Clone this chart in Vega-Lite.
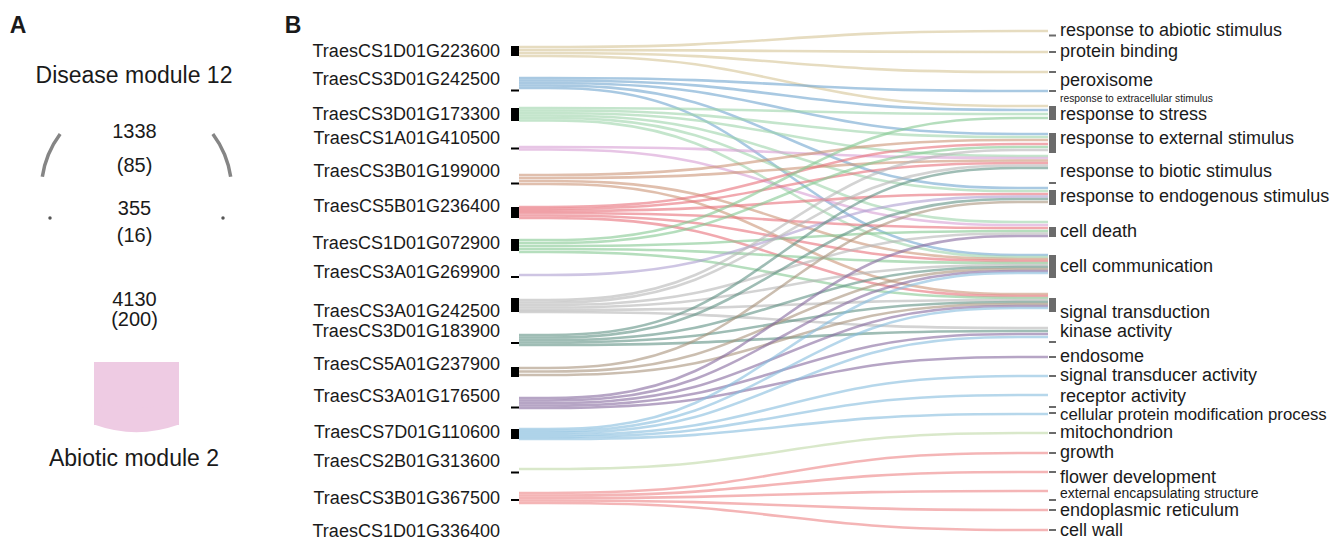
{
  "$schema": "https://vega.github.io/schema/vega-lite/v6.json",
  "width": 1343,
  "height": 540,
  "padding": 0,
  "autosize": {"type": "none"},
  "background": "white",
  "config": {"view": {"stroke": null}, "font": "Liberation Sans", "text": {"font": "Liberation Sans", "color": "#1a1a1a"}},
  "datasets": {
    "stops": [
      {"key": "a", "x": 519},
      {"key": "b", "x": 695},
      {"key": "c", "x": 872},
      {"key": "d", "x": 1048}
    ],
    "genes": [
      {"gene": "TraesCS1D01G223600", "y": 52, "n0": 46, "n1": 56},
      {"gene": "TraesCS3D01G242500", "y": 80, "n0": 89.5, "n1": 91.5},
      {"gene": "TraesCS3D01G173300", "y": 115, "n0": 108, "n1": 121},
      {"gene": "TraesCS1A01G410500", "y": 139, "n0": 147.5, "n1": 149.5},
      {"gene": "TraesCS3B01G199000", "y": 172, "n0": 182.5, "n1": 184.5},
      {"gene": "TraesCS5B01G236400", "y": 207, "n0": 207, "n1": 218},
      {"gene": "TraesCS1D01G072900", "y": 244, "n0": 239, "n1": 251},
      {"gene": "TraesCS3A01G269900", "y": 273, "n0": 276, "n1": 278},
      {"gene": "TraesCS3A01G242500", "y": 312, "n0": 298, "n1": 312},
      {"gene": "TraesCS3D01G183900", "y": 332, "n0": 342, "n1": 344},
      {"gene": "TraesCS5A01G237900", "y": 365, "n0": 367, "n1": 377},
      {"gene": "TraesCS3A01G176500", "y": 397, "n0": 406.5, "n1": 408.5},
      {"gene": "TraesCS7D01G110600", "y": 433, "n0": 429, "n1": 439},
      {"gene": "TraesCS2B01G313600", "y": 462, "n0": 471.5, "n1": 473.5},
      {"gene": "TraesCS3B01G367500", "y": 499, "n0": 499, "n1": 501},
      {"gene": "TraesCS1D01G336400", "y": 531.5}
    ],
    "terms": [
      {"term": "response to abiotic stimulus", "y": 31, "n0": 34.5, "n1": 36.5},
      {"term": "protein binding", "y": 52, "n0": 51, "n1": 53},
      {"term": "peroxisome", "y": 81, "n0": 71, "n1": 73},
      {"term": "response to extracellular stimulus", "y": 98.5, "n0": 90, "n1": 92},
      {"term": "response to stress", "y": 115, "n0": 106, "n1": 120},
      {"term": "response to external stimulus", "y": 139, "n0": 133, "n1": 153},
      {"term": "response to biotic stimulus", "y": 172, "n0": 182, "n1": 184},
      {"term": "response to endogenous stimulus", "y": 197, "n0": 190, "n1": 205},
      {"term": "cell death", "y": 232, "n0": 227, "n1": 237},
      {"term": "cell communication", "y": 267, "n0": 255, "n1": 278},
      {"term": "signal transduction", "y": 313, "n0": 298, "n1": 312},
      {"term": "kinase activity", "y": 332, "n0": 341, "n1": 343},
      {"term": "endosome", "y": 357, "n0": 356, "n1": 358},
      {"term": "signal transducer activity", "y": 376, "n0": 375, "n1": 377},
      {"term": "receptor activity", "y": 397, "n0": 406, "n1": 408},
      {"term": "cellular protein modification process", "y": 415, "n0": 412, "n1": 414},
      {"term": "mitochondrion", "y": 433, "n0": 432, "n1": 434},
      {"term": "growth", "y": 453, "n0": 452, "n1": 454},
      {"term": "flower development", "y": 477.5, "n0": 471, "n1": 473},
      {"term": "external encapsulating structure", "y": 494, "n0": 499, "n1": 501},
      {"term": "endoplasmic reticulum", "y": 511, "n0": 509, "n1": 511},
      {"term": "cell wall", "y": 531, "n0": 529, "n1": 531}
    ],
    "links": [
      {"g": "TraesCS1D01G223600", "t": "response to abiotic stimulus", "a": 47, "b": 47, "c": 31, "d": 31},
      {"g": "TraesCS1D01G223600", "t": "protein binding", "a": 50, "b": 50, "c": 52, "d": 52},
      {"g": "TraesCS1D01G223600", "t": "peroxisome", "a": 53, "b": 53, "c": 72, "d": 72},
      {"g": "TraesCS1D01G223600", "t": "response to stress", "a": 56, "b": 56, "c": 106, "d": 106},
      {"g": "TraesCS3D01G242500", "t": "response to extracellular stimulus", "a": 78, "b": 78, "c": 91, "d": 91},
      {"g": "TraesCS3D01G242500", "t": "response to stress", "a": 80.5, "b": 80.5, "c": 110, "d": 110},
      {"g": "TraesCS3D01G242500", "t": "response to external stimulus", "a": 83, "b": 83, "c": 134, "d": 134},
      {"g": "TraesCS3D01G242500", "t": "response to endogenous stimulus", "a": 85.5, "b": 85.5, "c": 188, "d": 188},
      {"g": "TraesCS3D01G242500", "t": "cell communication", "a": 88, "b": 88, "c": 255, "d": 255},
      {"g": "TraesCS3D01G173300", "t": "response to stress", "a": 108, "b": 108, "c": 114, "d": 114},
      {"g": "TraesCS3D01G173300", "t": "response to external stimulus", "a": 110.5, "b": 110.5, "c": 137, "d": 137},
      {"g": "TraesCS3D01G173300", "t": "response to biotic stimulus", "a": 113, "b": 113, "c": 156, "d": 156},
      {"g": "TraesCS3D01G173300", "t": "response to endogenous stimulus", "a": 115.5, "b": 115.5, "c": 191, "d": 191},
      {"g": "TraesCS3D01G173300", "t": "cell death", "a": 118, "b": 118, "c": 222, "d": 222},
      {"g": "TraesCS3D01G173300", "t": "cell communication", "a": 120.5, "b": 120.5, "c": 257, "d": 257},
      {"g": "TraesCS1A01G410500", "t": "response to biotic stimulus", "a": 147, "b": 147, "c": 158, "d": 158},
      {"g": "TraesCS1A01G410500", "t": "cell death", "a": 149.5, "b": 149.5, "c": 225, "d": 225},
      {"g": "TraesCS3B01G199000", "t": "response to external stimulus", "a": 175, "b": 175, "c": 140, "d": 140},
      {"g": "TraesCS3B01G199000", "t": "response to biotic stimulus", "a": 178, "b": 178, "c": 160.5, "d": 160.5},
      {"g": "TraesCS3B01G199000", "t": "cell communication", "a": 181, "b": 181, "c": 259, "d": 259},
      {"g": "TraesCS3B01G199000", "t": "signal transduction", "a": 184, "b": 184, "c": 294, "d": 294},
      {"g": "TraesCS5B01G236400", "t": "response to external stimulus", "a": 207, "b": 207, "c": 144, "d": 144},
      {"g": "TraesCS5B01G236400", "t": "response to biotic stimulus", "a": 209, "b": 209, "c": 163, "d": 163},
      {"g": "TraesCS5B01G236400", "t": "response to endogenous stimulus", "a": 211, "b": 211, "c": 194, "d": 194},
      {"g": "TraesCS5B01G236400", "t": "cell death", "a": 213, "b": 213, "c": 228, "d": 228},
      {"g": "TraesCS5B01G236400", "t": "cell communication", "a": 215.5, "b": 215.5, "c": 261, "d": 261},
      {"g": "TraesCS5B01G236400", "t": "signal transduction", "a": 218, "b": 218, "c": 296, "d": 296},
      {"g": "TraesCS1D01G072900", "t": "response to stress", "a": 240, "b": 240, "c": 118, "d": 118},
      {"g": "TraesCS1D01G072900", "t": "response to external stimulus", "a": 243, "b": 243, "c": 147, "d": 147},
      {"g": "TraesCS1D01G072900", "t": "cell death", "a": 246, "b": 246, "c": 231, "d": 231},
      {"g": "TraesCS1D01G072900", "t": "cell communication", "a": 249, "b": 249, "c": 263, "d": 263},
      {"g": "TraesCS1D01G072900", "t": "signal transduction", "a": 252, "b": 252, "c": 298, "d": 298},
      {"g": "TraesCS3A01G269900", "t": "response to endogenous stimulus", "a": 275, "b": 275, "c": 196.5, "d": 196.5},
      {"g": "TraesCS3A01G242500", "t": "response to external stimulus", "a": 300, "b": 300, "c": 150, "d": 150},
      {"g": "TraesCS3A01G242500", "t": "response to biotic stimulus", "a": 302.5, "b": 302.5, "c": 165.5, "d": 165.5},
      {"g": "TraesCS3A01G242500", "t": "cell death", "a": 305, "b": 305, "c": 233.5, "d": 233.5},
      {"g": "TraesCS3A01G242500", "t": "cell communication", "a": 307.5, "b": 307.5, "c": 265, "d": 265},
      {"g": "TraesCS3A01G242500", "t": "signal transduction", "a": 310, "b": 310, "c": 300, "d": 300},
      {"g": "TraesCS3A01G242500", "t": "kinase activity", "a": 312, "b": 312, "c": 328, "d": 328},
      {"g": "TraesCS3D01G183900", "t": "response to biotic stimulus", "a": 335, "b": 335, "c": 168, "d": 168},
      {"g": "TraesCS3D01G183900", "t": "response to endogenous stimulus", "a": 337.5, "b": 337.5, "c": 199, "d": 199},
      {"g": "TraesCS3D01G183900", "t": "cell communication", "a": 340, "b": 340, "c": 267, "d": 267},
      {"g": "TraesCS3D01G183900", "t": "signal transduction", "a": 342.5, "b": 342.5, "c": 302, "d": 302},
      {"g": "TraesCS3D01G183900", "t": "kinase activity", "a": 345, "b": 345, "c": 331, "d": 331},
      {"g": "TraesCS5A01G237900", "t": "response to endogenous stimulus", "a": 368, "b": 368, "c": 202, "d": 202},
      {"g": "TraesCS5A01G237900", "t": "cell communication", "a": 371.5, "b": 371.5, "c": 269, "d": 269},
      {"g": "TraesCS5A01G237900", "t": "signal transduction", "a": 375, "b": 375, "c": 304, "d": 304},
      {"g": "TraesCS3A01G176500", "t": "cell death", "a": 398, "b": 398, "c": 236, "d": 236},
      {"g": "TraesCS3A01G176500", "t": "cell communication", "a": 400.5, "b": 400.5, "c": 271, "d": 271},
      {"g": "TraesCS3A01G176500", "t": "signal transduction", "a": 403, "b": 403, "c": 306, "d": 306},
      {"g": "TraesCS3A01G176500", "t": "kinase activity", "a": 405.5, "b": 405.5, "c": 334, "d": 334},
      {"g": "TraesCS3A01G176500", "t": "endosome", "a": 408, "b": 408, "c": 357, "d": 357},
      {"g": "TraesCS7D01G110600", "t": "cell communication", "a": 429, "b": 429, "c": 273, "d": 273},
      {"g": "TraesCS7D01G110600", "t": "signal transduction", "a": 431, "b": 431, "c": 308, "d": 308},
      {"g": "TraesCS7D01G110600", "t": "kinase activity", "a": 433, "b": 433, "c": 337, "d": 337},
      {"g": "TraesCS7D01G110600", "t": "signal transducer activity", "a": 435, "b": 435, "c": 376, "d": 376},
      {"g": "TraesCS7D01G110600", "t": "receptor activity", "a": 437, "b": 437, "c": 395, "d": 395},
      {"g": "TraesCS7D01G110600", "t": "cellular protein modification process", "a": 439, "b": 439, "c": 414, "d": 414},
      {"g": "TraesCS2B01G313600", "t": "mitochondrion", "a": 469, "b": 469, "c": 433, "d": 433},
      {"g": "TraesCS3B01G367500", "t": "growth", "a": 493, "b": 493, "c": 453, "d": 453},
      {"g": "TraesCS3B01G367500", "t": "flower development", "a": 495.5, "b": 495.5, "c": 472, "d": 472},
      {"g": "TraesCS3B01G367500", "t": "external encapsulating structure", "a": 498, "b": 498, "c": 491, "d": 491},
      {"g": "TraesCS3B01G367500", "t": "endoplasmic reticulum", "a": 500.5, "b": 500.5, "c": 510, "d": 510},
      {"g": "TraesCS3B01G367500", "t": "cell wall", "a": 503, "b": 503, "c": 530, "d": 530}
    ],
    "notes": [
      {"text": "Disease module 12", "kind": "module", "x": 134, "y": 76},
      {"text": "Abiotic module 2", "kind": "module", "x": 134, "y": 459},
      {"text": "1338", "kind": "count", "x": 134.5, "y": 132},
      {"text": "(85)", "kind": "count", "x": 134.5, "y": 166},
      {"text": "355", "kind": "count", "x": 134.5, "y": 209},
      {"text": "(16)", "kind": "count", "x": 134.5, "y": 236},
      {"text": "4130", "kind": "count", "x": 134.5, "y": 300},
      {"text": "(200)", "kind": "count", "x": 134.5, "y": 320},
      {"text": "A", "kind": "panel", "x": 18, "y": 26},
      {"text": "B", "kind": "panel", "x": 293, "y": 26}
    ]
  },
  "layer": [
    {
      "data": {"values": [{"x0": 94, "x1": 179, "y0": 362, "y1": 425}]},
      "mark": {"type": "rect", "color": "#eecbe3"},
      "encoding": {
        "x": {"field": "x0", "type": "quantitative", "scale": {"domain": [0, 1343], "nice": false, "zero": false}, "axis": null},
        "x2": {"field": "x1"},
        "y": {"field": "y0", "type": "quantitative", "scale": {"domain": [0, 540], "reverse": true, "nice": false, "zero": false}, "axis": null},
        "y2": {"field": "y1"}
      }
    },
    {
      "data": {"values": [{"cx": 136.5, "cy": 308, "t0": 2.799, "t1": 3.485}]},
      "mark": {"type": "arc", "radius": 124, "radius2": 100, "color": "#eecbe3"},
      "encoding": {
        "x": {"field": "cx", "type": "quantitative"},
        "y": {"field": "cy", "type": "quantitative"},
        "theta": {"field": "t0", "type": "quantitative", "scale": null, "stack": null},
        "theta2": {"field": "t1"}
      }
    },
    {
      "data": {"values": [{"cx": 136.5, "cy": 191, "t0": -1.42, "t1": -0.93}, {"cx": 136.5, "cy": 191, "t0": 0.93, "t1": 1.42}]},
      "mark": {"type": "arc", "radius": 97, "radius2": 93.5, "color": "#858585"},
      "encoding": {
        "x": {"field": "cx", "type": "quantitative"},
        "y": {"field": "cy", "type": "quantitative"},
        "theta": {"field": "t0", "type": "quantitative", "scale": null, "stack": null},
        "theta2": {"field": "t1"}
      }
    },
    {
      "data": {"values": [{"x": 50, "y": 218}, {"x": 223, "y": 218}]},
      "mark": {"type": "circle", "size": 12, "color": "#555555", "opacity": 1},
      "encoding": {
        "x": {"field": "x", "type": "quantitative"},
        "y": {"field": "y", "type": "quantitative"}
      }
    },
    {
      "data": {"name": "notes"},
      "transform": [{"filter": "datum.kind === 'module'"}],
      "mark": {"type": "text", "fontSize": 23, "align": "center", "baseline": "middle"},
      "encoding": {
        "x": {"field": "x", "type": "quantitative"},
        "y": {"field": "y", "type": "quantitative"},
        "text": {"field": "text"}
      }
    },
    {
      "data": {"name": "notes"},
      "transform": [{"filter": "datum.kind === 'count'"}],
      "mark": {"type": "text", "fontSize": 20, "align": "center", "baseline": "middle"},
      "encoding": {
        "x": {"field": "x", "type": "quantitative"},
        "y": {"field": "y", "type": "quantitative"},
        "text": {"field": "text"}
      }
    },
    {
      "data": {"name": "notes"},
      "transform": [{"filter": "datum.kind === 'panel'"}],
      "mark": {"type": "text", "fontSize": 23, "fontWeight": "bold", "align": "center", "baseline": "middle", "font": "Liberation Sans"},
      "encoding": {
        "x": {"field": "x", "type": "quantitative"},
        "y": {"field": "y", "type": "quantitative"},
        "text": {"field": "text"}
      }
    },
    {
      "data": {"name": "links"},
      "transform": [
        {"fold": ["a", "b", "c", "d"], "as": ["key", "y"]},
        {"lookup": "key", "from": {"data": {"name": "stops"}, "key": "key", "fields": ["x"]}}
      ],
      "mark": {"type": "line", "interpolate": "basis", "strokeWidth": 2.6, "opacity": 0.6},
      "encoding": {
        "x": {"field": "x", "type": "quantitative"},
        "y": {"field": "y", "type": "quantitative"},
        "detail": [{"field": "g"}, {"field": "t"}],
        "order": {"field": "x", "type": "quantitative"},
        "color": {
          "field": "g",
          "type": "nominal",
          "legend": null,
          "scale": {
            "domain": ["TraesCS1D01G223600", "TraesCS3D01G242500", "TraesCS3D01G173300", "TraesCS1A01G410500", "TraesCS3B01G199000", "TraesCS5B01G236400", "TraesCS1D01G072900", "TraesCS3A01G269900", "TraesCS3A01G242500", "TraesCS3D01G183900", "TraesCS5A01G237900", "TraesCS3A01G176500", "TraesCS7D01G110600", "TraesCS2B01G313600", "TraesCS3B01G367500"],
            "range": ["#d6c496", "#6fa5cf", "#9dd4aa", "#d79fd4", "#cc9577", "#e8707a", "#84c891", "#ad9fd0", "#b5b5b5", "#5f9183", "#a8937c", "#86699f", "#85bcde", "#bfd9a6", "#ec8386"]
          }
        }
      }
    },
    {
      "data": {"name": "genes"},
      "mark": {"type": "rect", "color": "#000000"},
      "encoding": {
        "x": {"datum": 511, "type": "quantitative"},
        "x2": {"datum": 519},
        "y": {"field": "n0", "type": "quantitative"},
        "y2": {"field": "n1"}
      }
    },
    {
      "data": {"name": "terms"},
      "mark": {"type": "rect", "color": "#6b6b6b"},
      "encoding": {
        "x": {"datum": 1049, "type": "quantitative"},
        "x2": {"datum": 1056},
        "y": {"field": "n0", "type": "quantitative"},
        "y2": {"field": "n1"}
      }
    },
    {
      "data": {"name": "genes"},
      "mark": {"type": "text", "fontSize": 18, "align": "right", "baseline": "middle"},
      "encoding": {
        "x": {"datum": 500, "type": "quantitative"},
        "y": {"field": "y", "type": "quantitative"},
        "text": {"field": "gene"}
      }
    },
    {
      "data": {"name": "terms"},
      "transform": [{"filter": "datum.term !== 'response to extracellular stimulus' && datum.term !== 'external encapsulating structure' && datum.term !== 'cellular protein modification process'"}],
      "mark": {"type": "text", "fontSize": 18, "align": "left", "baseline": "middle"},
      "encoding": {
        "x": {"datum": 1060, "type": "quantitative"},
        "y": {"field": "y", "type": "quantitative"},
        "text": {"field": "term"}
      }
    },
    {
      "data": {"name": "terms"},
      "transform": [{"filter": "datum.term === 'cellular protein modification process'"}],
      "mark": {"type": "text", "fontSize": 16.8, "align": "left", "baseline": "middle"},
      "encoding": {
        "x": {"datum": 1060, "type": "quantitative"},
        "y": {"field": "y", "type": "quantitative"},
        "text": {"field": "term"}
      }
    },
    {
      "data": {"name": "terms"},
      "transform": [{"filter": "datum.term === 'response to extracellular stimulus'"}],
      "mark": {"type": "text", "fontSize": 10.3, "align": "left", "baseline": "middle"},
      "encoding": {
        "x": {"datum": 1060, "type": "quantitative"},
        "y": {"field": "y", "type": "quantitative"},
        "text": {"field": "term"}
      }
    },
    {
      "data": {"name": "terms"},
      "transform": [{"filter": "datum.term === 'external encapsulating structure'"}],
      "mark": {"type": "text", "fontSize": 14, "align": "left", "baseline": "middle"},
      "encoding": {
        "x": {"datum": 1060, "type": "quantitative"},
        "y": {"field": "y", "type": "quantitative"},
        "text": {"field": "term"}
      }
    }
  ]
}
